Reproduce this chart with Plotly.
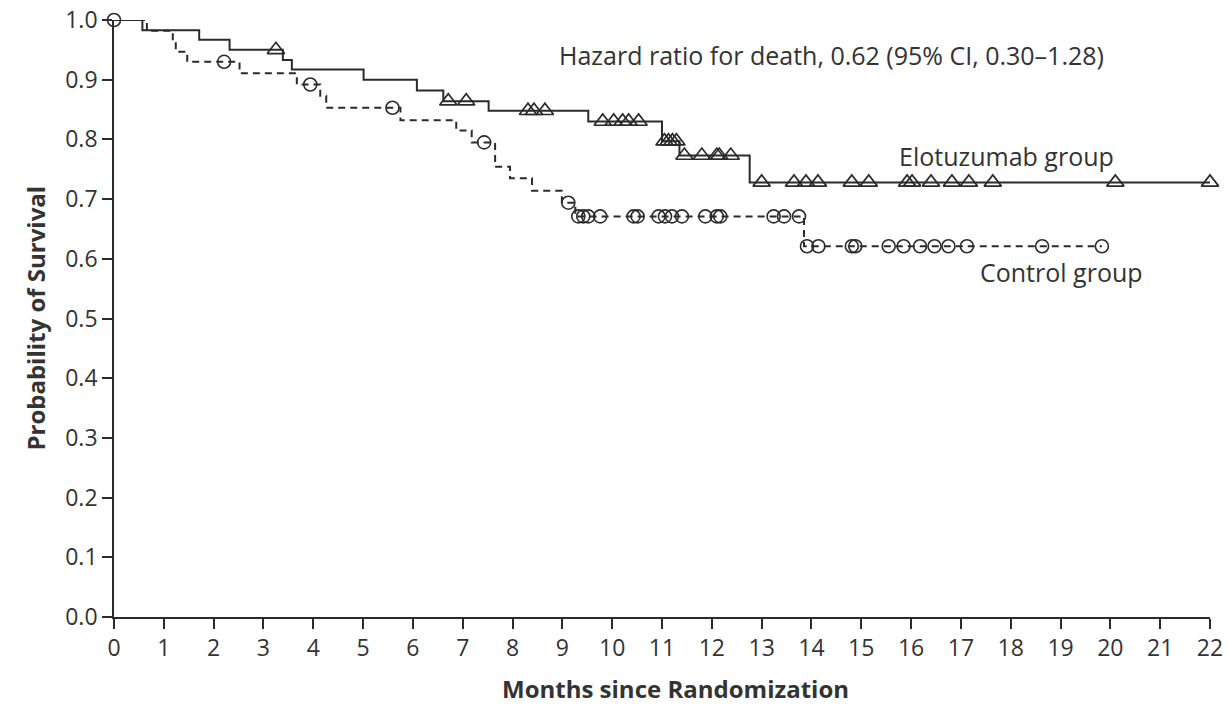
import numpy as np
import plotly.graph_objects as go

# Kaplan-Meier step data (months, survival probability)
elo_times = [0, 0.57, 1.71, 2.32, 3.39, 3.57, 5.01, 6.08, 6.61, 7.52, 9.52, 11.0, 11.35, 12.76, 22.0]
elo_surv = [1.0, 0.983, 0.967, 0.950, 0.933, 0.917, 0.900, 0.882, 0.864, 0.848, 0.830, 0.797, 0.773, 0.728, 0.728]
elo_censor = [3.25, 6.71, 7.07, 8.31, 8.43, 8.65, 9.81, 10.03, 10.21, 10.33, 10.53, 11.05, 11.13, 11.21,
              11.29, 11.45, 11.80, 12.10, 12.15, 12.38, 13.0, 13.65, 13.89, 14.13, 14.81, 15.15, 15.92,
              16.02, 16.40, 16.82, 17.16, 17.64, 20.1, 22.0]

ctl_times = [0, 0.66, 1.18, 1.24, 1.47, 2.52, 3.67, 4.14, 4.26, 5.75, 6.87, 7.18, 7.65, 7.95, 8.39,
             8.99, 9.26, 13.85, 19.83]
ctl_surv = [1.0, 0.982, 0.965, 0.947, 0.930, 0.911, 0.892, 0.873, 0.853, 0.832, 0.815, 0.795, 0.754,
            0.735, 0.714, 0.694, 0.671, 0.621, 0.621]
ctl_censor = [0.0, 2.21, 3.94, 5.59, 7.43, 9.12, 9.32, 9.42, 9.52, 9.76, 10.43, 10.51, 10.93, 11.06,
              11.2, 11.4, 11.87, 12.1, 12.17, 13.24, 13.45, 13.75, 13.91, 14.14, 14.81, 14.88, 15.55,
              15.85, 16.18, 16.47, 16.75, 17.12, 18.63, 19.83]

x_ticks = list(range(0, 23))
y_ticks = [round(0.1 * i, 1) for i in range(11)]

hazard_text = "Hazard ratio for death, 0.62 (95% CI, 0.30\u20131.28)"
elo_label = "Elotuzumab group"
ctl_label = "Control group"
x_title = "Months since Randomization"
y_title = "Probability of Survival"


def level_at(times, surv, t):
    idx = np.searchsorted(np.array(times), t, side="right") - 1
    return surv[max(idx, 0)]


INK = "#2b2b2b"
TXT = "#333"
FONT = "Open Sans"

fig = go.Figure()

fig.add_trace(go.Scatter(x=elo_times, y=elo_surv, mode="lines", line=dict(color=INK, width=2, shape="hv"),
                         showlegend=False, hoverinfo="skip"))
fig.add_trace(go.Scatter(x=ctl_times, y=ctl_surv, mode="lines",
                         line=dict(color=INK, width=2, shape="hv", dash="7px,5px"),
                         showlegend=False, hoverinfo="skip"))

fig.add_trace(go.Scatter(x=elo_censor, y=[level_at(elo_times, elo_surv, c) for c in elo_censor],
                         mode="markers", cliponaxis=False,
                         marker=dict(symbol="triangle-up-open", size=15, color=INK, line=dict(width=1.7, color=INK)),
                         showlegend=False))
fig.add_trace(go.Scatter(x=ctl_censor, y=[level_at(ctl_times, ctl_surv, c) for c in ctl_censor],
                         mode="markers", cliponaxis=False,
                         marker=dict(symbol="circle-open", size=13, color=INK, line=dict(width=1.6, color=INK)),
                         showlegend=False))

fig.add_annotation(x=8.9, y=0.941, xref="x", yref="y", text=hazard_text, showarrow=False,
                   xanchor="left", yanchor="middle", font=dict(family=FONT, size=25, color=TXT))
fig.add_annotation(x=15.72, y=0.772, xref="x", yref="y", text=elo_label, showarrow=False,
                   xanchor="left", yanchor="middle", font=dict(family=FONT, size=25, color=TXT))
fig.add_annotation(x=17.35, y=0.578, xref="x", yref="y", text=ctl_label, showarrow=False,
                   xanchor="left", yanchor="middle", font=dict(family=FONT, size=25, color=TXT))

# axis titles placed as annotations for exact position
fig.add_annotation(x=11.27, y=-0.119, xref="x", yref="paper", text="<b>" + x_title + "</b>", showarrow=False,
                   xanchor="center", yanchor="middle", font=dict(family=FONT, size=24, color=TXT))
fig.add_annotation(x=-0.072, y=0.5, xref="paper", yref="paper", text="<b>" + y_title + "</b>", showarrow=False,
                   textangle=-90, xanchor="center", yanchor="middle", font=dict(family=FONT, size=24, color=TXT))

axis_common = dict(showline=True, linecolor=INK, linewidth=1.7, ticks="outside", ticklen=10,
                   tickwidth=1.7, tickcolor=INK, showgrid=False, zeroline=False, automargin=False,
                   tickfont=dict(family=FONT, size=23, color=TXT))

fig.update_xaxes(range=[0, 22], tickmode="array", tickvals=x_ticks, ticktext=[str(v) for v in x_ticks],
                 **axis_common)
fig.update_yaxes(range=[0, 1.0], tickmode="array", tickvals=y_ticks, ticktext=[f"{v:.1f}" for v in y_ticks],
                 **axis_common)

fig.update_layout(width=1229, height=706, margin=dict(l=114, r=19, t=20, b=89),
                  paper_bgcolor="white", plot_bgcolor="white")

fig.write_html("out.html")
